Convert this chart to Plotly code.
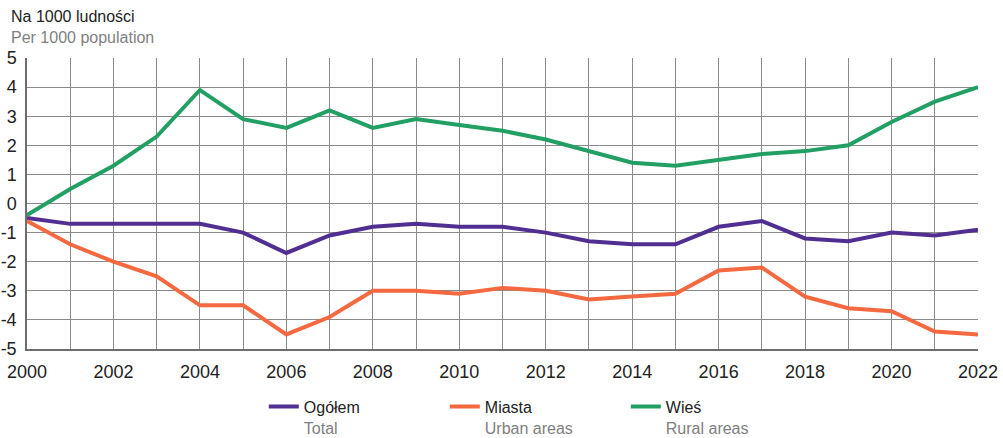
import plotly.graph_objects as go

years = list(range(2000, 2023))
total = [-0.5, -0.7, -0.7, -0.7, -0.7, -1.0, -1.7, -1.1, -0.8, -0.7, -0.8, -0.8, -1.0, -1.3, -1.4, -1.4, -0.8, -0.6, -1.2, -1.3, -1.0, -1.1, -0.9]
urban = [-0.6, -1.4, -2.0, -2.5, -3.5, -3.5, -4.5, -3.9, -3.0, -3.0, -3.1, -2.9, -3.0, -3.3, -3.2, -3.1, -2.3, -2.2, -3.2, -3.6, -3.7, -4.4, -4.5]
rural = [-0.4, 0.5, 1.3, 2.3, 3.9, 2.9, 2.6, 3.2, 2.6, 2.9, 2.7, 2.5, 2.2, 1.8, 1.4, 1.3, 1.5, 1.7, 1.8, 2.0, 2.8, 3.5, 4.0]
y_ticks = [5, 4, 3, 2, 1, 0, -1, -2, -3, -4, -5]
names = ["Ogółem", "Miasta", "Wieś"]
names_en = ["Total", "Urban areas", "Rural areas"]
colors = ["#512e92", "#f4693f", "#22a063"]

FONT = "Liberation Sans"
fig = go.Figure()
for vals, n, ne, c in zip([total, urban, rural], names, names_en, colors):
    fig.add_trace(go.Scatter(
        x=years, y=vals, mode="lines",
        name=f"{n}<br><span style='color:#808080'>{ne}</span>",
        line=dict(color=c, width=4),
    ))

fig.update_layout(
    width=1003, height=438,
    margin=dict(l=27, r=25, t=58, b=89, autoexpand=False),
    paper_bgcolor="white", plot_bgcolor="white",
    font=dict(family=FONT, size=16, color="#222222"),
    showlegend=True,
    legend=dict(orientation="h", x=0.249, xanchor="left", y=-0.15 + 3 / 291, yanchor="top",
                valign="top", font=dict(family=FONT, size=16, color="#222222"),
                entrywidth=136, tracegroupgap=0),
)
fig.add_annotation(text="Na 1000 ludności<br><span style='color:#808080'>Per 1000 population</span>",
                   xref="paper", yref="paper", align="left",
                   x=-18/951, y=1 + 31/291, xanchor="left", yanchor="middle",
                   showarrow=False, font=dict(family=FONT, size=16, color="#222222"))

fig.update_xaxes(
    range=[2000, 2022], tickvals=years,
    ticktext=[str(y) if y % 2 == 0 else "" for y in years],
    showgrid=True, gridcolor="#8a8a8a", gridwidth=1.3,
    showline=True, linecolor="#6e6e6e", linewidth=1.5,
    ticks="", zeroline=False, automargin=False, ticklabelstandoff=6,
    tickfont=dict(family=FONT, size=18, color="#222222"),
)
fig.update_yaxes(
    range=[-5, 5], tickvals=y_ticks, ticktext=[str(v) for v in y_ticks],
    showgrid=True, gridcolor="#8a8a8a", gridwidth=1.3,
    showline=True, linecolor="#6e6e6e", linewidth=1.5,
    ticks="", zeroline=False, automargin=False, ticklabelstandoff=5,
    tickfont=dict(family=FONT, size=18, color="#222222"),
)

fig.write_html("out.html", config={"displayModeBar": False},
               post_script="document.body.style.margin='0';")
